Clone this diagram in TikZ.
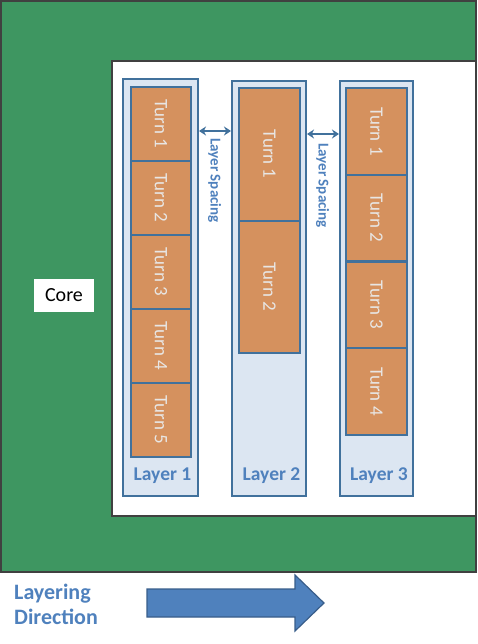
\documentclass[tikz,border=0pt]{standalone}
\usepackage{fontspec}
\setmainfont{Carlito}
\usepackage{tikz}
\usetikzlibrary{arrows.meta}
\usepackage{xcolor}
\definecolor{coregreen}{RGB}{62,150,97}
\definecolor{frameline}{RGB}{64,64,64}
\definecolor{layerfill}{RGB}{220,230,242}
\definecolor{layerline}{RGB}{65,113,156}
\definecolor{turnfill}{RGB}{213,145,94}
\definecolor{turntext}{RGB}{232,230,228}
\definecolor{labelblue}{RGB}{79,129,189}
\definecolor{arrowline}{RGB}{56,93,138}

\tikzset{
  frame/.style={draw=frameline,line width=2pt},
  layerbox/.style={draw=layerline,fill=layerfill,line width=2pt},
  turnbox/.style={draw=layerline,fill=turnfill,line width=2pt,rotate=-90,
    text=turntext,font=\fontsize{19}{22}\selectfont,inner sep=0pt},
  layerlabel/.style={text=labelblue,font=\bfseries\fontsize{19.5}{22}\selectfont,inner sep=0pt},
  spacinglabel/.style={rotate=-90,anchor=west,text=labelblue,
    font=\bfseries\fontsize{15}{18}\selectfont,inner sep=0pt},
  spacing/.style={draw=layerline,line width=2.2pt,
    {Stealth[length=7pt,width=9pt]}-{Stealth[length=7pt,width=9pt]}}
}

\begin{document}
\begin{tikzpicture}[x=1pt,y=-1pt]
  \useasboundingbox (0,0) rectangle (478,644);

  % core and window ------------------------------------------------------------
  \draw[frame,fill=coregreen] (1,1) rectangle (476,572);
  \draw[frame,fill=white] (112,61) rectangle (476,516);
  \node[fill=white,minimum width=60pt,minimum height=33pt,inner sep=0pt,
        font=\fontsize{20}{24}\selectfont] (core) at (64,295.5) {Core};

  %----------------------------------------------------------------------------%
  %  layer 1  (5 turns) -------------------------------------------------------%
  \node[layerbox,minimum width=75pt,minimum height=417pt,inner sep=0pt] (l1) at (160.5,287.5) {};
  \node[turnbox,minimum width=74pt,minimum height=60pt] (t11) at (161,124) {Turn 1};
  \node[turnbox,minimum width=74pt,minimum height=60pt] (t12) at (161,198) {Turn 2};
  \node[turnbox,minimum width=74pt,minimum height=60pt] (t13) at (161,272) {Turn 3};
  \node[turnbox,minimum width=74pt,minimum height=60pt] (t14) at (161,346) {Turn 4};
  \node[turnbox,minimum width=74pt,minimum height=60pt] (t15) at (161,420) {Turn 5};
  \node[layerlabel] (lab1) at (162.5,476) {Layer 1};

  %----------------------------------------------------------------------------%
  %  layer 2  (2 turns) -------------------------------------------------------%
  \node[layerbox,minimum width=74pt,minimum height=415pt,inner sep=0pt] (l2) at (269,288.5) {};
  \node[turnbox,minimum width=132.5pt,minimum height=61pt] (t21) at (269.5,154.25) {Turn 1};
  \node[turnbox,minimum width=132.5pt,minimum height=61pt] (t22) at (269.5,286.75) {Turn 2};
  \node[layerlabel] (lab2) at (271.5,476) {Layer 2};

  %----------------------------------------------------------------------------%
  %  layer 3  (4 turns) -------------------------------------------------------%
  \node[layerbox,minimum width=73pt,minimum height=415pt,inner sep=0pt] (l3) at (376.5,288.5) {};
  \node[turnbox,minimum width=86.75pt,minimum height=61pt] (t31) at (376.5,131.4) {Turn 1};
  \node[turnbox,minimum width=86.75pt,minimum height=61pt] (t32) at (376.5,218.1) {Turn 2};
  \node[turnbox,minimum width=86.75pt,minimum height=61pt] (t33) at (376.5,304.9) {Turn 3};
  \node[turnbox,minimum width=86.75pt,minimum height=61pt] (t34) at (376.5,391.6) {Turn 4};
  \node[layerlabel] (lab3) at (379,476) {Layer 3};

  %----------------------------------------------------------------------------%
  %  layer spacing ------------------------------------------------------------%
  \coordinate (sp1) at (0,131);
  \coordinate (sp2) at (0,134);
  \draw[spacing] (l1.east |- sp1) -- (l2.west |- sp1);
  \draw[spacing] (l2.east |- sp2) -- (l3.west |- sp2);
  \node[spacinglabel] (spl1) at (214.5,138) {Layer Spacing};
  \node[spacinglabel] (spl2) at (322.5,143) {Layer Spacing};

  %----------------------------------------------------------------------------%
  %  layering direction -------------------------------------------------------%
  \node[anchor=north west,align=left,inner sep=0pt,text=labelblue,
        font=\bfseries\fontsize{22}{25}\selectfont] (dir) at (14,584) {Layering\\Direction};
  \draw[draw=arrowline,fill=labelblue,line width=1.2pt,line join=miter]
        (147,589) -- (295,589) -- (295,575) -- (324,603)
        -- (295,631) -- (295,617) -- (147,617) -- cycle;
\end{tikzpicture}
\end{document}
